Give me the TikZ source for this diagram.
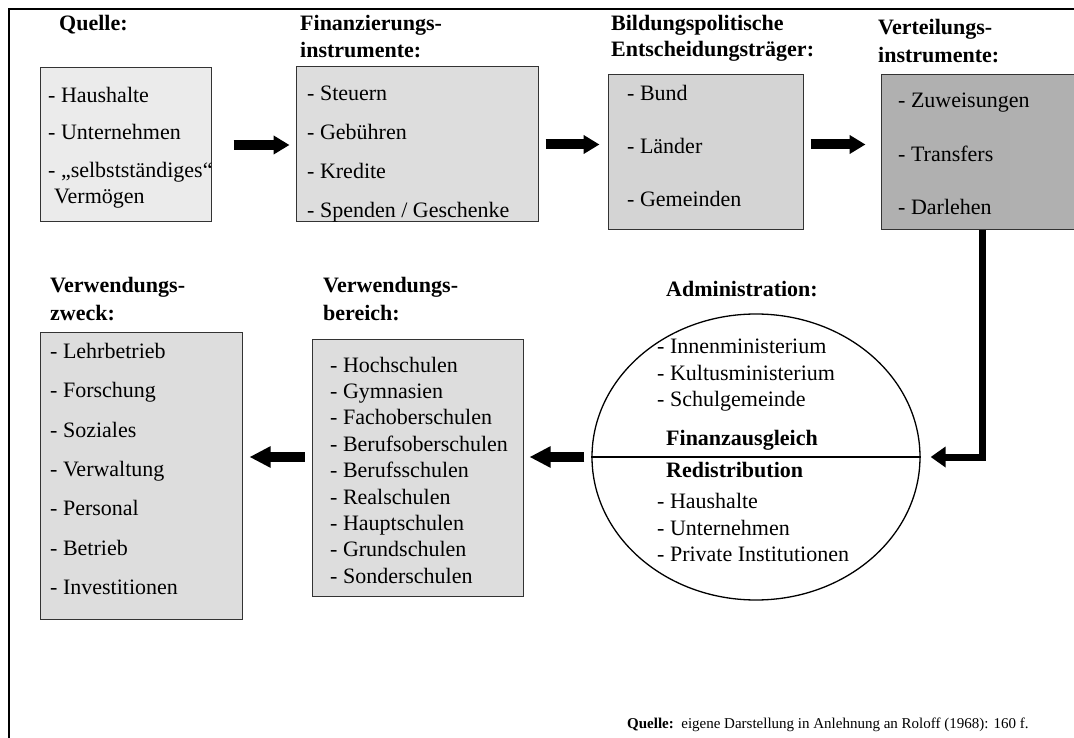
\documentclass[tikz,border=0pt]{standalone}
\usepackage{fontspec}
\setmainfont{Liberation Serif}
\usetikzlibrary{arrows.meta,shapes.geometric}
\definecolor{fillA}{HTML}{EBEBEB}
\definecolor{fillB}{HTML}{DDDDDD}
\definecolor{fillC}{HTML}{D4D4D4}
\definecolor{fillD}{HTML}{B0B0B0}
\definecolor{edge}{HTML}{333333}
\tikzset{
  box/.style={draw=edge, line width=1pt, rectangle, inner sep=0pt},
  txt/.style={anchor=base west, inner sep=0pt, font=\fontsize{22}{26}\selectfont},
  head/.style={txt, font=\fontsize{22}{26}\selectfont\bfseries},
  fatarrow/.style={line width=10pt, -{Triangle[width=18pt,length=16pt]}},
  lowarrow/.style={line width=10pt, -{Triangle[width=20pt,length=21pt]}},
  feed/.style={line width=7pt, line join=miter, -{Triangle[width=20pt,length=15pt]}}
}
\begin{document}
\begin{tikzpicture}[x=1pt,y=-1pt]
\clip (0,0) rectangle (1074,738);
\useasboundingbox (0,0) rectangle (1074,738);
% outer frame
\draw[line width=2pt] (9,760) -- (9,9) -- (1090,9);

% headings
\node[head] (h1)  at (59,31) {Quelle:};
\node[head] (h2a) at (300,31) {Finanzierungs-};
\node[head] (h2b) at (300,58) {instrumente:};
\node[head] (h3a) at (611,31) {Bildungspolitische};
\node[head] (h3b) at (611,57) {Entscheidungsträger:};
\node[head] (h4a) at (878,35) {Verteilungs-};
\node[head] (h4b) at (878,63) {instrumente:};
\node[head] (h5a) at (50,293) {Verwendungs-};
\node[head] (h5b) at (50,320) {zweck:};
\node[head] (h6a) at (323,293) {Verwendungs-};
\node[head] (h6b) at (323,320) {bereich:};
\node[head] (h7)  at (666,297) {Administration:};

% boxes
\node[box, fill=fillA, minimum width=171pt, minimum height=154pt] (b1) at (125.5,145) {};
\node[box, fill=fillB, minimum width=242pt, minimum height=155pt] (b2) at (417,144.5) {};
\node[box, fill=fillC, minimum width=195pt, minimum height=155pt] (b3) at (705.5,152.5) {};
\node[box, fill=fillD, minimum width=202pt, minimum height=155pt] (b4) at (982,152.5) {};
\node[box, fill=fillB, minimum width=202pt, minimum height=287pt] (b5) at (141,475.5) {};
\node[box, fill=fillB, minimum width=211pt, minimum height=257pt] (b6) at (417.5,467.5) {};
\node[draw, line width=1.3pt, ellipse, fill=white, inner sep=0pt,
      minimum width=328pt, minimum height=286pt] (ell) at (756,457) {};
\draw[line width=2pt] (ell.west) -- (ell.east);

% box contents
\node[txt] (q1) at (48,103) {- Haushalte};
\node[txt] (q2) at (48,140) {- Unternehmen};
\node[txt] (q3) at (48,178) {- „selbstständiges“};
\node[txt] (q4) at (54,204) {Vermögen};

\node[txt] (f1) at (307,101) {- Steuern};
\node[txt] (f2) at (307,140) {- Gebühren};
\node[txt] (f3) at (307,179) {- Kredite};
\node[txt] (f4) at (307,218) {- Spenden / Geschenke};

\node[txt] (e1) at (627,101) {- Bund};
\node[txt] (e2) at (627,154) {- Länder};
\node[txt] (e3) at (627,207) {- Gemeinden};

\node[txt] (v1) at (898,108) {- Zuweisungen};
\node[txt] (v2) at (898,162) {- Transfers};
\node[txt] (v3) at (898,215) {- Darlehen};

\node[txt] (z1) at (50,358) {- Lehrbetrieb};
\node[txt] (z2) at (50,397) {- Forschung};
\node[txt] (z3) at (50,437) {- Soziales};
\node[txt] (z4) at (50,476) {- Verwaltung};
\node[txt] (z5) at (50,515) {- Personal};
\node[txt] (z6) at (50,555) {- Betrieb};
\node[txt] (z7) at (50,594) {- Investitionen};

\node[txt] (r1) at (330,372) {- Hochschulen};
\node[txt] (r2) at (330,398.4) {- Gymnasien};
\node[txt] (r3) at (330,424.8) {- Fachoberschulen};
\node[txt] (r4) at (330,451.2) {- Berufsoberschulen};
\node[txt] (r5) at (330,477.6) {- Berufsschulen};
\node[txt] (r6) at (330,504) {- Realschulen};
\node[txt] (r7) at (330,530.4) {- Hauptschulen};
\node[txt] (r8) at (330,556.8) {- Grundschulen};
\node[txt] (r9) at (330,583) {- Sonderschulen};

\node[txt] (a1) at (657,353) {- Innenministerium};
\node[txt] (a2) at (657,380) {- Kultusministerium};
\node[txt] (a3) at (657,406) {- Schulgemeinde};
\node[head] (a4) at (666,445) {Finanzausgleich};
\node[head] (a5) at (666,477) {Redistribution};
\node[txt] (a6) at (657,508) {- Haushalte};
\node[txt] (a7) at (657,535) {- Unternehmen};
\node[txt] (a8) at (657,561) {- Private Institutionen};

% flow arrows
\draw[fatarrow] ([xshift=22pt]b1.east) -- ([xshift=-6pt]b2.west |- b1.east);
\draw[fatarrow] ([xshift=7pt]b2.east) -- ([xshift=-8pt]b3.west |- b2.east);
\draw[fatarrow] ([xshift=7pt]b3.east |- b2.east) -- ([xshift=-15pt]b4.west |- b2.east);
\draw[feed] (b4.south) |- ([xshift=10pt]ell.east);
\draw[lowarrow] ([xshift=-7pt]ell.west) -- ([xshift=6pt]b6.east |- ell.west);
\draw[lowarrow] ([xshift=-7pt]b6.west |- ell.west) -- ([xshift=7pt]b5.east |- ell.west);

% source note
\node[txt, font=\fontsize{15}{18}\selectfont] (src) at (627,728)
  {\textbf{Quelle:}\ \ eigene Darstellung in Anlehnung an Roloff (1968): 160 f.};
\end{tikzpicture}
\end{document}
